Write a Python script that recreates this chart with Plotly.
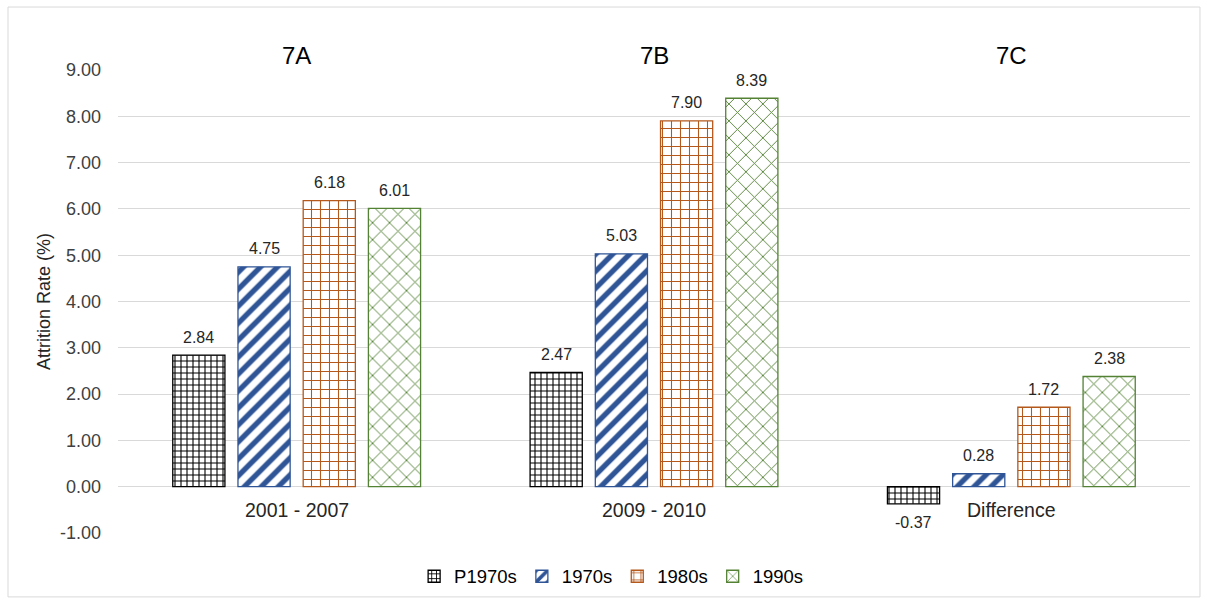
import plotly.graph_objects as go

# Attrition rate by cohort for each period
periods = ["2001 - 2007", "2009 - 2010", "Difference"]
panel_titles = ["7A", "7B", "7C"]
cohorts = ["P1970s", "1970s", "1980s", "1990s"]
p1970s = [2.84, 2.47, -0.37]
c1970s = [4.75, 5.03, 0.28]
c1980s = [6.18, 7.90, 1.72]
c1990s = [6.01, 8.39, 2.38]
y_ticks = [-1, 0, 1, 2, 3, 4, 5, 6, 7, 8, 9]

series = [p1970s, c1970s, c1980s, c1990s]
colors = ["#000000", "#2F5597", "#B4581C", "#548235"]
shapes = ["+", "/", "+", "x"]
sizes = [6, 12, 9, 12]
solidity = [0.33, 0.45, 0.22, 0.15]

FONT = "Liberation Sans, Arial"

# group geometry on a numeric category axis (one unit per period)
GROUP = 1 - 0.27           # share of each category taken by the group
SLOT = GROUP / len(series)  # space per bar
BAR_W = SLOT * 0.8          # bar width inside its slot
x_pos = list(range(len(periods)))

fig = go.Figure()
annotations = []
for j, (name, vals, col, shp, sz, sol) in enumerate(
        zip(cohorts, series, colors, shapes, sizes, solidity)):
    off = (j - (len(series) - 1) / 2) * SLOT
    fig.add_trace(go.Bar(
        x=x_pos, y=vals, name=name,
        width=BAR_W, offset=off - BAR_W / 2,
        marker=dict(color="white",
                    line=dict(color=col, width=1.3),
                    pattern=dict(shape=shp, fgcolor=col, bgcolor="white",
                                 size=sz, solidity=sol, fgopacity=1)),
    ))
    # value labels above (or below) each bar
    for xi, v in zip(x_pos, vals):
        annotations.append(dict(
            x=xi + off, y=v, xref="x", yref="y", text=f"{v:.2f}",
            showarrow=False, yanchor="middle",
            yshift=18 if v >= 0 else -19,
            font=dict(family=FONT, size=16, color="#262626")))

for xi, per, ttl in zip(x_pos, periods, panel_titles):
    annotations.append(dict(x=xi, y=-0.5, xref="x", yref="y", text=per,
                            showarrow=False,
                            font=dict(family=FONT, size=19.5, color="#262626")))
    annotations.append(dict(x=xi, y=1.032, xref="x", yref="paper", text=ttl,
                            showarrow=False, yanchor="middle",
                            font=dict(family=FONT, size=24, color="#000000")))

fig.update_layout(
    width=1210, height=602,
    margin=dict(l=118, r=20, t=70, b=69, autoexpand=False),
    paper_bgcolor="white", plot_bgcolor="white",
    barmode="overlay",
    showlegend=True,
    legend=dict(orientation="h", x=0.46, xanchor="center",
                yref="container", y=0.042, yanchor="middle",
                font=dict(family=FONT, size=18.5, color="#000000"),
                traceorder="normal"),
    xaxis=dict(range=[-0.5, len(periods) - 0.5], showticklabels=False,
               showgrid=False, zeroline=False, showline=False, ticks=""),
    yaxis=dict(range=[-1, 9], tickvals=y_ticks,
               ticktext=[f"{t:.2f}" for t in y_ticks],
               showgrid=True, gridcolor="#D9D9D9", gridwidth=1,
               zeroline=True, zerolinecolor="#D9D9D9", zerolinewidth=1,
               showline=False, ticks="", ticklabelstandoff=16,
               tickfont=dict(family=FONT, size=18, color="#404040"),
               title=dict(text="Attrition Rate (%)", standoff=4,
                          font=dict(family=FONT, size=18, color="#262626"))),
    annotations=annotations,
    shapes=[dict(type="rect", xref="paper", yref="paper",
                 x0=-0.1026, x1=1.0093, y0=-0.138, y1=1.136,
                 line=dict(color="#D9D9D9", width=1), fillcolor="rgba(0,0,0,0)",
                 layer="below")],
)

fig.write_html("out.html")
